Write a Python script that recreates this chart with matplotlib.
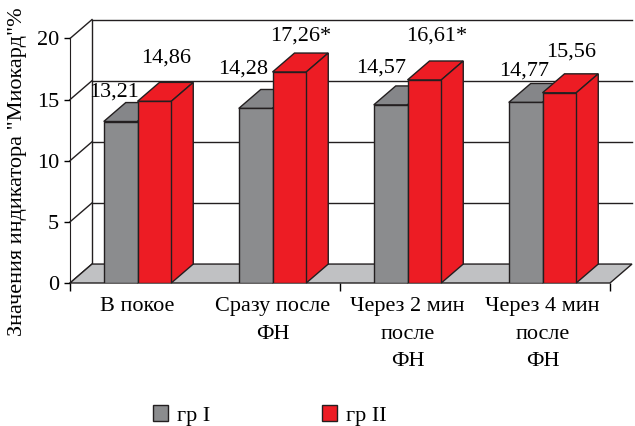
import numpy as np
import matplotlib
matplotlib.use('Agg')
import matplotlib.pyplot as plt
from matplotlib.patches import Polygon, Patch

plt.rcParams['font.family'] = 'serif'
plt.rcParams['font.serif'] = ['Liberation Serif', 'Times New Roman', 'DejaVu Serif']
plt.rcParams['font.size'] = 16

# data
categories = ['В покое', 'Сразу после\nФН', 'Через 2 мин\nпосле\nФН', 'Через 4 мин\nпосле\nФН']
group_names = ['гр I', 'гр II']
gr1 = [13.21, 14.28, 14.57, 14.77]
gr2 = [14.86, 17.26, 16.61, 15.56]
gr1_marks = ['', '', '', '']
gr2_marks = ['', '*', '*', '']
yticks = [0, 5, 10, 15, 20]

# label placement (offset from bar centre / top)
gr1_lab_dx = [-0.05, -0.09, -0.07, -0.01]
gr1_lab_dy = [2.4, 3.2, 3.0, 2.6]
gr2_lab_dx = [0.09, 0.08, 0.09, 0.09]
gr2_lab_dy = [3.55, 2.9, 3.6, 3.35]

GRAY = '#8b8c8e'
GRAY_TOP = '#858689'
RED = '#ed1c24'
FLOOR = '#c0c1c3'
EDGE = '#231f20'

DX = 0.163   # depth offset in category units
DY = 1.55    # depth offset in value units
W = 0.25

fig = plt.figure(figsize=(6.35, 4.26), dpi=100)
ax = fig.add_axes([70/635, (426-283)/426, 540/635, 244.5/426])
ax.set_xlim(0, 4)
ax.set_ylim(0, 20)
ax.set_facecolor('none')

n = len(categories)

# back wall, side wall
ax.plot([DX, DX], [DY, 20+DY], color=EDGE, lw=1, clip_on=False, zorder=1)
for v in yticks:
    ax.plot([0, DX], [v, v+DY], color=EDGE, lw=1, clip_on=False, zorder=1)
    if v > 0:
        ax.plot([DX, n+DX], [v+DY, v+DY], color=EDGE, lw=1, clip_on=False, zorder=1)

# floor
floor = Polygon([(0, 0), (n, 0), (n+DX, DY), (DX, DY)], closed=True,
                facecolor=FLOOR, edgecolor=EDGE, lw=1, clip_on=False, zorder=2)
ax.add_patch(floor)


def box(x0, h, face, top, z):
    ax.bar(x0, h, width=W, align='edge', color=face, edgecolor=EDGE, lw=1, zorder=z+0.2)
    ax.add_patch(Polygon([(x0, h), (x0+W, h), (x0+W+DX, h+DY), (x0+DX, h+DY)],
                         facecolor=top, edgecolor=EDGE, lw=1, clip_on=False, zorder=z))
    ax.add_patch(Polygon([(x0+W, 0), (x0+W+DX, DY), (x0+W+DX, h+DY), (x0+W, h)],
                         facecolor=face, edgecolor=EDGE, lw=1, clip_on=False, zorder=z))


x = np.arange(n)
for i in range(n):
    box(x[i]+0.25, gr1[i], GRAY, GRAY_TOP, 3)
    box(x[i]+0.5, gr2[i], RED, RED, 4)
    ax.text(x[i]+0.375+gr1_lab_dx[i], gr1[i]+gr1_lab_dy[i],
            ('%.2f' % gr1[i]).replace('.', ',') + gr1_marks[i],
            ha='center', va='center', fontsize=16, zorder=6, clip_on=False)
    ax.text(x[i]+0.625+gr2_lab_dx[i], gr2[i]+gr2_lab_dy[i],
            ('%.2f' % gr2[i]).replace('.', ',') + gr2_marks[i],
            ha='center', va='center', fontsize=16, zorder=6, clip_on=False)

for s in ['top', 'right']:
    ax.spines[s].set_visible(False)
ax.spines['left'].set_color(EDGE)
ax.spines['bottom'].set_visible(False)

ax.set_yticks(yticks)
ax.tick_params(axis='y', direction='out', length=4, width=1, pad=4, labelsize=16)
ax.set_xticks([0, 2, 4])
ax.set_xticklabels(['', '', ''])
ax.set_xticks(x + 0.5, minor=True)
ax.set_xticklabels(categories, minor=True, fontsize=16)
for lab in ax.get_xticklabels(minor=True):
    lab.set_linespacing(1.62)
ax.tick_params(axis='x', which='major', direction='out', length=6, width=1)
ax.tick_params(axis='x', which='minor', length=0, pad=10)

fig.text(18/635, 1-172/426, 'Значения индикатора "Миокард"%', rotation=90,
         ha='center', va='center', fontsize=16)

handles = [Patch(facecolor=GRAY, edgecolor=EDGE), Patch(facecolor=RED, edgecolor=EDGE)]
fig.legend(handles, group_names, loc='center', bbox_to_anchor=(0.425, 0.025), ncol=2,
           frameon=False, handlelength=0.7, handleheight=0.7, handletextpad=0.4,
           columnspacing=5, fontsize=16)

fig.savefig('out.png', dpi=100)
